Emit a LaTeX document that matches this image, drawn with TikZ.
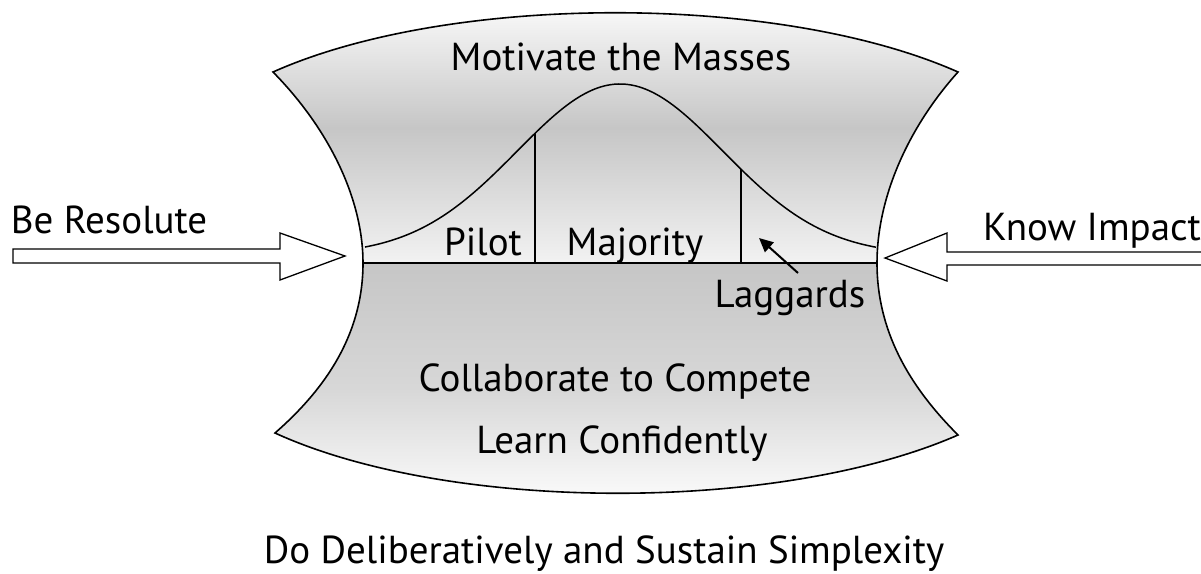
\documentclass[tikz,border=0pt]{standalone}
\usepackage{fontspec}
\setmainfont{PT Sans}
\usetikzlibrary{arrows.meta}

\definecolor{midgray}{RGB}{198,198,198}
\definecolor{palegray}{RGB}{242,242,242}

\pgfmathdeclarefunction{bell}{1}{\pgfmathparse{255-171*exp(-0.5*((#1-620)/103)^2)}}

\tikzset{
  lbl/.style={font=\fontsize{39}{44}\selectfont, anchor=base, inner sep=0pt},
  rim/.style={line width=1.6pt},
  blockarrow/.style={line width=1.3pt, line join=miter},
}

\begin{document}
\begin{tikzpicture}[x=1pt,y=-1pt]
        \useasboundingbox (0,0) rectangle (1201,573);

        % corners and waist of the funnel
        \coordinate (tl) at (273,72);
        \coordinate (tr) at (958,72);
        \coordinate (bl) at (275,433);
        \coordinate (br) at (958,435);
        \coordinate (lw) at (363,263);
        \coordinate (rw) at (877,263);

        % shaded halves
        \path[top color=white, bottom color=palegray, middle color=midgray]
          (tl) .. controls +(177,-79) and +(-178,-79) .. (tr)
               .. controls +(-52,58) and +(0,-63) .. (rw)
               -- (lw)
               .. controls +(0,-63) and +(57,58) .. (tl) -- cycle;
        \path[top color=midgray, bottom color=white, middle color=midgray!70!white]
          (lw) -- (rw)
               .. controls +(0,67) and +(-50,-50) .. (br)
               .. controls +(-178,78) and +(175,80) .. (bl)
               .. controls +(55,-48) and +(0,67) .. (lw) -- cycle;

        % outline
        \draw[rim]
          (tl) .. controls +(177,-79) and +(-178,-79) .. (tr)
               .. controls +(-52,58) and +(0,-63) .. (rw)
               .. controls +(0,67) and +(-50,-50) .. (br)
               .. controls +(-178,78) and +(175,80) .. (bl)
               .. controls +(55,-48) and +(0,67) .. (lw)
               .. controls +(0,-63) and +(57,58) .. (tl) -- cycle;
        \draw[line width=1.3pt] (lw) -- (rw);

        % adoption curve
        \draw[line width=1.5pt] plot[domain=365:876, samples=120, smooth] (\x,{bell(\x)});
        \draw[line width=1.2pt] (535,263) -- (535,{bell(535)});
        \draw[line width=1.2pt] (741,263) -- (741,{bell(741)});

        % block arrows
        \draw[blockarrow, fill=white]
          (13,249) -- (280,249) -- (280,233) -- (345,256) -- (280,280) -- (280,263) -- (13,263) -- cycle;
        \draw[blockarrow]
          (1201,252) -- (947,252) -- (947,233) -- (885,258) -- (947,281) -- (947,265) -- (1201,265);

        \begin{scope}[every node/.style={lbl}]
          \node (motivate) at (621,70)  {Motivate the Masses};
          \node (resolute) at (109,233) {Be Resolute};
          \node (impact)   at (1092,240) {Know Impact};
          \node (pilot)    at (483,255) {Pilot};
          \node (majority) at (635,255) {Majority};
          \node (laggards) at (790,307) {Laggards};
          \node (compete)  at (615,391) {Collaborate to Compete};
          \node (learn)    at (622,453) {Learn Confidently};
          \node (simplex)  at (604,563) {Do Deliberatively and Sustain Simplexity};
        \end{scope}

        \coordinate (lagtail) at (798,273);
        \coordinate (lagtip)  at (759,238);
        \draw[line width=2pt, -{Triangle[length=14pt,width=13pt]}] (lagtail) -- (lagtip);

\end{tikzpicture}
\end{document}
